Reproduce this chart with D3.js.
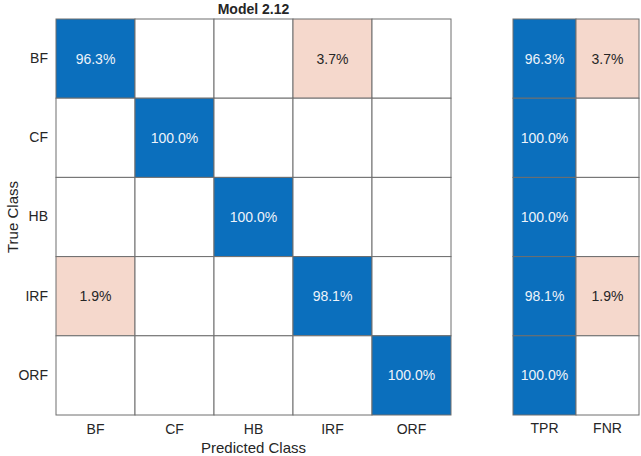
<!DOCTYPE html>
<html>
<head>
<meta charset="utf-8">
<script src="https://cdn.jsdelivr.net/npm/d3@7"></script>
<style>
  body { margin: 0; background: #fff; }
  text { font-family: "Liberation Sans", Arial, sans-serif; }
</style>
</head>
<body>
<div class="chart"></div>
<script>
"use strict";

// Classes and row-normalized percentages (true class rows, predicted class columns)
var classes = ["BF", "CF", "HB", "IRF", "ORF"];
var matrix = [
    [96.3, 0, 0, 3.7, 0],
    [0, 100.0, 0, 0, 0],
    [0, 0, 100.0, 0, 0],
    [1.9, 0, 0, 98.1, 0],
    [0, 0, 0, 0, 100.0]
];
var summaryCols = ["TPR", "FNR"];
var tpr = [96.3, 100.0, 100.0, 98.1, 100.0];
var fnr = [3.7, 0, 0, 1.9, 0];

var width = 641;
var height = 456;

// Colors
var blue = "#0b6fbd";
var pink = "#f5d8cc";
var gridColor = "#6e6e6e";
var textColor = "#262626";

var svg = d3.select(".chart").append("svg")
    .attr("width", width)
    .attr("height", height);

// Scales
var y = d3.scaleBand().domain(classes).range([19, 415]);
var x = d3.scaleBand().domain(classes).range([56, 451]);
var xs = d3.scaleBand().domain(summaryCols).range([513, 639]);

function cellFill(v, good) {
    if (v === 0) return "#ffffff";
    return good ? blue : pink;
}

function fmt(v) { return v.toFixed(1) + "%"; }

// Main confusion matrix cells
var cells = [];
matrix.forEach(function (row, i) {
    row.forEach(function (v, j) {
        cells.push({ r: classes[i], c: classes[j], v: v, good: i === j });
    });
});

var main = svg.append("g");
main.selectAll("rect")
    .data(cells)
    .enter().append("rect")
    .attr("x", function (d) { return x(d.c); })
    .attr("y", function (d) { return y(d.r); })
    .attr("width", x.bandwidth())
    .attr("height", y.bandwidth())
    .style("fill", function (d) { return cellFill(d.v, d.good); })
    .style("stroke", gridColor)
    .style("stroke-width", 1);

main.selectAll("text")
    .data(cells.filter(function (d) { return d.v > 0; }))
    .enter().append("text")
    .attr("x", function (d) { return x(d.c) + x.bandwidth() / 2; })
    .attr("y", function (d) { return y(d.r) + y.bandwidth() / 2; })
    .attr("dy", "0.35em")
    .attr("text-anchor", "middle")
    .style("font-size", "14px")
    .style("fill", function (d) { return d.good ? "#eef3fa" : textColor; })
    .text(function (d) { return fmt(d.v); });

// Summary (TPR / FNR) cells
var summary = [];
classes.forEach(function (c, i) {
    summary.push({ r: c, c: "TPR", v: tpr[i], good: true });
    summary.push({ r: c, c: "FNR", v: fnr[i], good: false });
});

var side = svg.append("g");
side.selectAll("rect")
    .data(summary)
    .enter().append("rect")
    .attr("x", function (d) { return xs(d.c); })
    .attr("y", function (d) { return y(d.r); })
    .attr("width", xs.bandwidth())
    .attr("height", y.bandwidth())
    .style("fill", function (d) { return cellFill(d.v, d.good); })
    .style("stroke", gridColor)
    .style("stroke-width", 1);

side.selectAll("text")
    .data(summary.filter(function (d) { return d.v > 0; }))
    .enter().append("text")
    .attr("x", function (d) { return xs(d.c) + xs.bandwidth() / 2; })
    .attr("y", function (d) { return y(d.r) + y.bandwidth() / 2; })
    .attr("dy", "0.35em")
    .attr("text-anchor", "middle")
    .style("font-size", "14px")
    .style("fill", function (d) { return d.good ? "#eef3fa" : textColor; })
    .text(function (d) { return fmt(d.v); });

// Axes
var yAxis = svg.append("g")
    .attr("transform", "translate(56,0)")
    .call(d3.axisLeft(y).tickSize(0).tickPadding(8));
var xAxis = svg.append("g")
    .attr("transform", "translate(0,415)")
    .call(d3.axisBottom(x).tickSize(0).tickPadding(9));
var sAxis = svg.append("g")
    .attr("transform", "translate(0,415)")
    .call(d3.axisBottom(xs).tickSize(0).tickPadding(8));

[yAxis, xAxis, sAxis].forEach(function (g) {
    g.select(".domain").remove();
    g.selectAll("text")
        .style("font-size", "14px")
        .style("font-family", "'Liberation Sans', Arial, sans-serif")
        .style("fill", textColor);
});

// Titles
svg.append("text")
    .attr("x", (56 + 451) / 2)
    .attr("y", 14)
    .attr("text-anchor", "middle")
    .style("font-size", "14px")
    .style("font-weight", "bold")
    .style("fill", textColor)
    .text("Model 2.12");

svg.append("text")
    .attr("x", (56 + 451) / 2)
    .attr("y", 453)
    .attr("text-anchor", "middle")
    .style("font-size", "15px")
    .style("fill", textColor)
    .text("Predicted Class");

svg.append("text")
    .attr("transform", "translate(18," + ((19 + 415) / 2) + ") rotate(-90)")
    .attr("text-anchor", "middle")
    .style("font-size", "15px")
    .style("fill", textColor)
    .text("True Class");
</script>
</body>
</html>
